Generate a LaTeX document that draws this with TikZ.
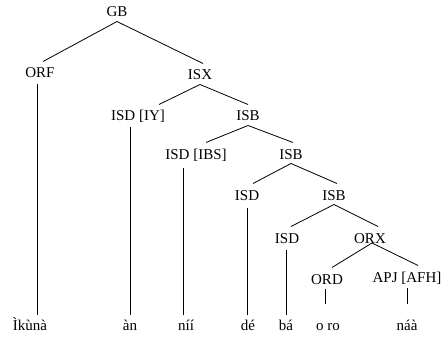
\documentclass[tikz,border=0pt]{standalone}
\usepackage{fontspec}
\setmainfont{Liberation Serif}
\begin{document}
\begin{tikzpicture}[x=1pt,y=-1pt,
  lbl/.style={anchor=base,text height=12pt,text depth=0pt,inner xsep=0pt,inner ysep=4.5pt,outer sep=0pt,font=\fontsize{15}{18}\selectfont},
  edge/.style={line width=0.8pt,black}]
\useasboundingbox[fill=white] (0,0) rectangle (445,337);
% nodes
\node[lbl] (gb)   at (117,17)  {GB};
\node[lbl] (orf)  at (40,78)   {ORF};
\node[lbl] (isx)  at (200,80)  {ISX};
\node[lbl] (iy)   at (138,121) {ISD [IY]};
\node[lbl] (isb)  at (248,121) {ISB};
\node[lbl] (ibs)  at (196,159) {ISD [IBS]};
\node[lbl] (isbb) at (291,159) {ISB};
\node[lbl] (isdc) at (247,200) {ISD};
\node[lbl] (isbc) at (334,200) {ISB};
\node[lbl] (isdd) at (287,243) {ISD};
\node[lbl] (orx)  at (370,243) {ORX};
\node[lbl] (ord)  at (327,284) {ORD};
\node[lbl] (apj)  at (407,282) {APJ [AFH]};
% words
\node[lbl] (w1) at (30,330)  {Ìkùnà};
\node[lbl] (w2) at (130,330) {àn};
\node[lbl] (w3) at (186,330) {níí};
\node[lbl] (w4) at (248,330) {dé};
\node[lbl] (w5) at (286,330) {bá};
\node[lbl] (w6) at (328,330) {o ro};
\node[lbl] (w7) at (407,330) {náà};
% branching edges
\draw[edge] (gb.south) -- ([xshift=3pt]orf.north);
\draw[edge] (gb.south) -- ([xshift=3pt]isx.north);
\draw[edge] (isx.south) -- ([xshift=21pt]iy.north);
\draw[edge] (isx.south) -- (isb.north);
\draw[edge] (isb.south) -- ([xshift=10pt]ibs.north);
\draw[edge] (isb.south) -- ([xshift=2pt]isbb.north);
\draw[edge] (isbb.south) -- ([xshift=6pt]isdc.north);
\draw[edge] (isbb.south) -- ([xshift=3pt]isbc.north);
\draw[edge] (isbc.south) -- ([xshift=4pt]isdd.north);
\draw[edge] (isbc.south) -- ([xshift=8pt]orx.north);
\draw[edge] ([xshift=2pt]orx.base) -- ([xshift=5pt]ord.north);
\draw[edge] ([xshift=2pt]orx.base) -- ([xshift=11pt]apj.north);
% unary edges
\draw[edge] ([xshift=-3pt,yshift=-1.5pt]orf.south) -- ([xshift=7pt,yshift=-1.5pt]w1.north);
\draw[edge] ([xshift=-8pt,yshift=-1.5pt]iy.south) -- ([yshift=-1.5pt]w2.north);
\draw[edge] ([xshift=-13pt,yshift=-4pt]ibs.south) -- ([xshift=-3pt,yshift=-1.5pt]w3.north);
\draw[edge] ([yshift=-3pt]isdc.south) -- ([xshift=-1pt,yshift=-1.5pt]w4.north);
\draw[edge] ([xshift=-1pt,yshift=-2.5pt]isdd.south) -- ([yshift=-1.5pt]w5.north);
\draw[edge] ([xshift=-2pt]ord.south) -- ([xshift=-3pt,yshift=10pt]w6.north);
\draw[edge] ([yshift=-1.5pt]apj.south) -- ([yshift=10pt]w7.north);
\end{tikzpicture}
\end{document}
